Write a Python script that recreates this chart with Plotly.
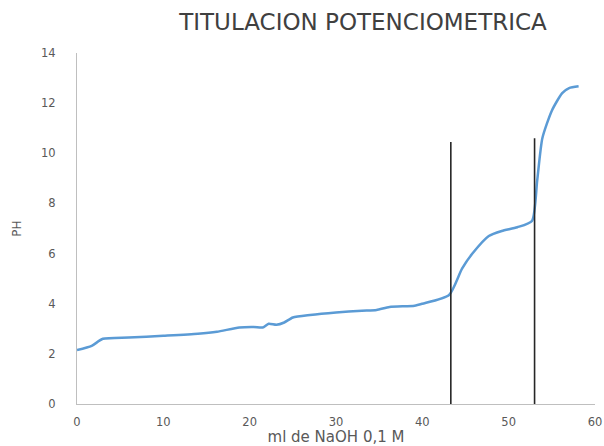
import plotly.graph_objects as go

# Volume of NaOH added (ml) and measured pH
volumen_ml = [0, 1.7, 3.0, 6, 10, 14, 16.2, 18.8, 20.5, 21.5, 22.2, 23.1, 24, 25,
              27, 30, 33, 34.7, 36.2, 39.1, 40, 43.1, 44.6, 45.8, 47.7, 49.2, 51,
              52.7, 53.3, 53.9, 55, 56.2, 57, 58.1]
ph = [2.15, 2.32, 2.6, 2.65, 2.72, 2.8, 2.88, 3.05, 3.07, 3.05, 3.2, 3.16, 3.25, 3.45,
      3.55, 3.65, 3.72, 3.75, 3.87, 3.92, 4.0, 4.35, 5.4, 6.0, 6.7, 6.9, 7.05,
      7.3, 8.9, 10.6, 11.7, 12.4, 12.6, 12.67]

# Equivalence point markers (x position, bottom, top in pH units)
equiv_x = [43.3, 53.0]
equiv_bottom = [-0.12, -0.12]
equiv_top = [10.45, 10.6]

x_ticks = [0, 10, 20, 30, 40, 50, 60]
y_ticks = [0, 2, 4, 6, 8, 10, 12, 14]

fig = go.Figure()
fig.add_trace(go.Scatter(
    x=volumen_ml, y=ph, mode="lines",
    line=dict(color="#5B9BD5", width=2.5, shape="spline", smoothing=0.6),
    showlegend=False, hoverinfo="x+y",
))

for xv, y0, y1 in zip(equiv_x, equiv_bottom, equiv_top):
    fig.add_trace(go.Scatter(
        x=[xv, xv], y=[y0, y1], mode="lines",
        line=dict(color="#262626", width=1.6),
        showlegend=False, cliponaxis=False, hoverinfo="skip",
    ))

fig.update_layout(
    width=604, height=446,
    margin=dict(l=77, r=9, t=53, b=42),
    paper_bgcolor="white", plot_bgcolor="white",
    font=dict(family="DejaVu Sans, sans-serif", color="#595959", size=12),
    title=dict(text="TITULACION POTENCIOMETRICA", x=0.601, xanchor="center",
               y=0.95, yanchor="middle",
               font=dict(size=23, color="#404040", family="DejaVu Sans, sans-serif")),
)
fig.update_xaxes(
    range=[0, 60], tickvals=x_ticks, showgrid=False, zeroline=False,
    showline=True, linecolor="#BFBFBF", linewidth=1.2, ticks="",
    ticklabelstandoff=7,
    tickfont=dict(size=11.5, color="#595959"),
    title=dict(text="ml de NaOH 0,1 M", font=dict(size=15, color="#595959"), standoff=8),
    automargin=False,
)
fig.update_yaxes(
    range=[0, 14], tickvals=y_ticks, showgrid=False, zeroline=False,
    showline=True, linecolor="#BFBFBF", linewidth=1.2, ticks="",
    ticklabelstandoff=18,
    tickfont=dict(size=11.5, color="#595959"),
    title=dict(text="PH", font=dict(size=12, color="#595959"), standoff=16),
    automargin=False,
)

fig.write_html("out.html")
